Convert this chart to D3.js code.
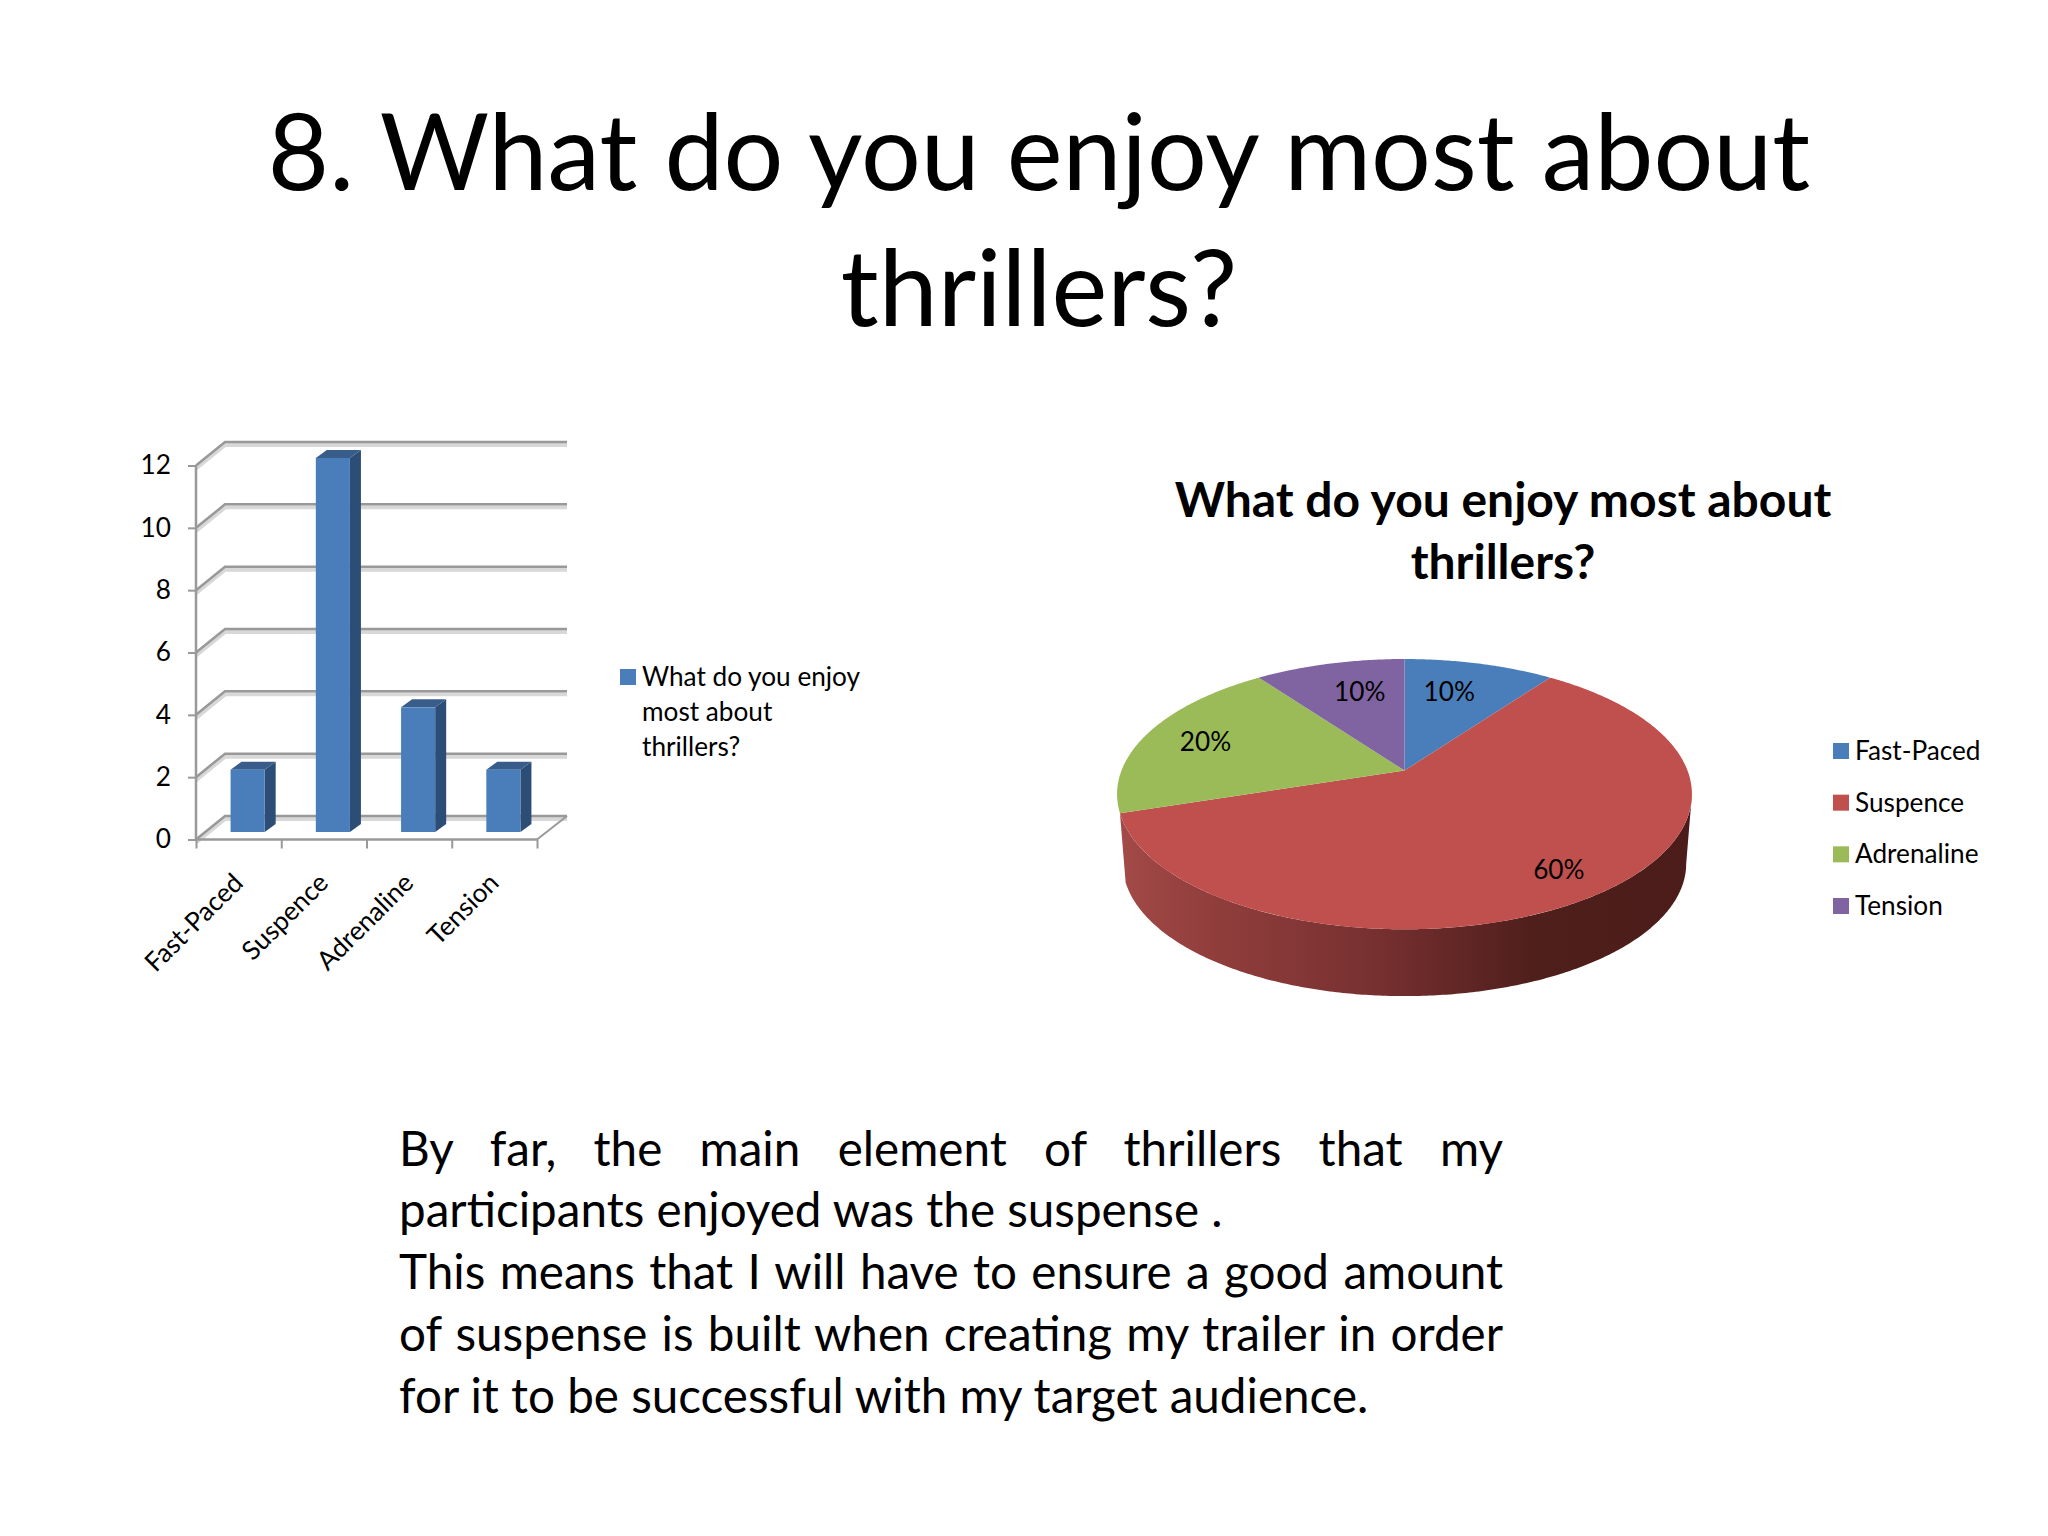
<!DOCTYPE html>
<html>
<head>
<meta charset="utf-8">
<script src="https://cdn.jsdelivr.net/npm/d3@7"></script>
<style>
  html, body { margin: 0; padding: 0; background: #fff; }
  svg { display: block; }
  text { font-family: Lato, "Open Sans", sans-serif; fill: #000; }
  .domain { display: none; }
</style>
</head>
<body>
<div id="slide"></div>
<script>
// chart values
const categories = ["Fast-Paced", "Suspence", "Adrenaline", "Tension"];
const counts = [2, 12, 4, 2];
const yTicks = [0, 2, 4, 6, 8, 10, 12];
const pieColors = ["#4a7ebb", "#c0504d", "#9bbb59", "#8064a2"];
const titleLines = ["8. What do you enjoy most about", "thrillers?"];
const pieTitleLines = ["What do you enjoy most about", "thrillers?"];
const barLegendLines = ["What do you enjoy", "most about", "thrillers?"];
const bodyLines = [
  "By far, the main element of thrillers that my",
  "participants enjoyed was the suspense .",
  "This means that I will have to ensure a good amount",
  "of suspense is built when creating my trailer in order",
  "for it to be successful with my target audience."
];
const bodyJustified = [true, false, true, true, false];

const width = 2048;
const height = 1536;
const smallFont = 26.2;

const svg = d3.select("#slide").append("svg")
  .attr("width", width)
  .attr("height", height);

function addText(parent, str, x, y, size, anchor, weight) {
  return parent.append("text")
    .attr("x", x)
    .attr("y", y)
    .attr("text-anchor", anchor || "start")
    .attr("font-size", size)
    .attr("font-weight", weight || 400)
    .text(str);
}

// slide title
titleLines.forEach((t, i) => addText(svg, t, 1039, 190 + i * 136, 105.7, "middle"));

/*
  Bar chart
*/
const bar = svg.append("g");
const axisX = 196, axisEnd = 537, backEnd = 567;
const depth = {x: 29, y: 23.5};
const barDepth = {x: 11, y: 8};
const barBase = 7.5; // bars stand a little behind the front axis
const barShift = 9;  // and to the right of the middle of their band

const yScale = d3.scaleLinear().domain([0, 12]).range([839.5, 465.5]);
const xScale = d3.scaleBand().domain(categories).range([axisX, axisEnd]).paddingInner(0.6).paddingOuter(0.3);
const edgeScale = d3.scaleLinear().domain([0, categories.length]).range([axisX, axisEnd]);

// walls: each tick runs back along the side and then across the back
const grid = bar.append("g").attr("fill", "none");
yTicks.forEach(t => {
  const y = yScale(t);
  const wall = `M${axisX},${y}L${axisX + depth.x},${y - depth.y}H${backEnd}`;
  grid.append("path").attr("d", wall).attr("transform", "translate(0,3)").attr("stroke", "#d8d8d8").attr("stroke-width", 4);
  grid.append("path").attr("d", wall).attr("stroke", "#999").attr("stroke-width", 2.5);
});
grid.append("path")
  .attr("d", `M${axisEnd},${yScale(0)}L${backEnd},${yScale(0) - depth.y}`)
  .attr("stroke", "#999").attr("stroke-width", 2);
grid.append("path")
  .attr("d", `M${axisX},${yScale(0)}H${axisEnd}`)
  .attr("stroke", "#999").attr("stroke-width", 2.5);
grid.append("path")
  .attr("d", `M${axisX},${yScale(12)}V${yScale(0)}`)
  .attr("stroke", "#999").attr("stroke-width", 2.5);

const yAxis = bar.append("g")
  .attr("transform", `translate(${axisX},0)`)
  .call(d3.axisLeft(yScale).tickValues(yTicks).tickSize(8).tickPadding(17));
yAxis.selectAll("line").attr("stroke", "#999").attr("stroke-width", 2);
yAxis.selectAll("text").attr("font-size", smallFont).style("font-family", "Lato");

const edgeAxis = bar.append("g")
  .attr("transform", `translate(0,${yScale(0)})`)
  .call(d3.axisBottom(edgeScale).ticks(categories.length).tickSize(9).tickFormat(""));
edgeAxis.selectAll("line").attr("stroke", "#999").attr("stroke-width", 2);

const xAxis = bar.append("g")
  .attr("transform", `translate(0,${yScale(0)})`)
  .call(d3.axisBottom(xScale).tickSize(0).tickPadding(0));
xAxis.selectAll("text")
  .attr("font-size", smallFont)
  .attr("text-anchor", "end")
  .attr("dy", 0).attr("y", 0)
  .attr("transform", "translate(6,45) rotate(-45)")
  .style("font-family", "Lato");

const columns = bar.selectAll(".bar").data(categories).enter().append("g").attr("class", "bar");
const w = xScale.bandwidth();
columns.append("path")
  .attr("fill", "#2c4d75")
  .attr("d", (d, i) => {
    const x = xScale(d) + barShift + w, top = yScale(counts[i]) - barBase, bot = yScale(0) - barBase;
    return `M${x},${top}l${barDepth.x},${-barDepth.y}V${bot - barDepth.y}L${x},${bot}Z`;
  });
columns.append("path")
  .attr("fill", "#385d8a")
  .attr("d", (d, i) => {
    const x = xScale(d) + barShift, top = yScale(counts[i]) - barBase;
    return `M${x},${top}l${barDepth.x},${-barDepth.y}h${w}l${-barDepth.x},${barDepth.y}Z`;
  });
columns.append("rect")
  .attr("fill", "#4a7ebb")
  .attr("x", d => xScale(d) + barShift)
  .attr("y", (d, i) => yScale(counts[i]) - barBase)
  .attr("width", w)
  .attr("height", (d, i) => yScale(0) - yScale(counts[i]));

// legend of the bar chart
bar.append("rect").attr("x", 620).attr("y", 669).attr("width", 16).attr("height", 16).attr("fill", "#4a7ebb");
barLegendLines.forEach((t, i) => addText(bar, t, 642, 686 + i * 35, smallFont));

/*
  Pie, drawn in perspective: d3.pie gives the angles, project() tilts them
*/
const pieG = svg.append("g");
pieTitleLines.forEach((t, i) => addText(pieG, t, 1503, 517 + i * 61.5, 48, "middle", 700));

const tilt = {cx: 1404.5, cy: 770.5, rx: 283, ry: 131, k: 0.175, drop: 70, shrink: 0.98};
const labelRadius = [0.56, 0.82, 0.77, 0.56];
const labelLift = [15, -1, -1, 15];

function project(a, r) {
  const rad = r === undefined ? 1 : r;
  const p = 1 + tilt.k * rad * Math.cos(a);
  return [
    tilt.cx + tilt.rx * rad * Math.sin(a) / p,
    tilt.cy - tilt.ry * rad * Math.cos(a) / p
  ];
}
function lower(p) {
  return [
    tilt.cx + (p[0] - tilt.cx) * tilt.shrink,
    tilt.cy + tilt.drop + (p[1] - tilt.cy) * tilt.shrink
  ];
}
function angles(a0, a1) {
  return d3.range(a0, a1, 0.01).concat(a1);
}

const slices = d3.pie().sort(null)(counts);
const total = d3.sum(counts);
const line = d3.line();

const grad = svg.append("defs").append("linearGradient")
  .attr("id", "wall")
  .attr("gradientUnits", "userSpaceOnUse")
  .attr("x1", tilt.cx - 290).attr("x2", tilt.cx + 290)
  .attr("y1", 0).attr("y2", 0);
[[0, "#a34b49"], [0.15, "#923f3d"], [0.45, "#773030"], [0.72, "#4f1f1c"], [1, "#4b1c19"]]
  .forEach(s => grad.append("stop").attr("offset", s[0]).attr("stop-color", s[1]));

// side wall of the big slice, from the rightmost point of the rim round to its end
const rimStart = Math.acos(-tilt.k);
const rim = angles(rimStart, slices[1].endAngle).map(a => project(a));
pieG.append("path")
  .attr("fill", "url(#wall)")
  .attr("d", line(rim.concat(rim.map(lower).reverse())) + "Z");

pieG.selectAll(".slice").data(slices).enter().append("path")
  .attr("class", "slice")
  .attr("fill", (d, i) => pieColors[i])
  .attr("d", d => line([[tilt.cx, tilt.cy]].concat(angles(d.startAngle, d.endAngle).map(a => project(a)))) + "Z");

pieG.selectAll(".pct").data(slices).enter().append("text")
  .attr("class", "pct")
  .attr("font-size", smallFont)
  .attr("text-anchor", "middle")
  .attr("dy", "0.35em")
  .attr("transform", (d, i) => {
    const p = project((d.startAngle + d.endAngle) / 2, labelRadius[i]);
    return `translate(${p[0]},${p[1] - labelLift[i]})`;
  })
  .text(d => d3.format(".0%")(d.value / total));

// pie legend
const legendY = d3.scalePoint().domain(categories).range([751, 906]);
const legend = pieG.selectAll(".legend").data(categories).enter().append("g")
  .attr("class", "legend")
  .attr("transform", d => `translate(1833,${legendY(d)})`);
legend.append("rect").attr("y", -8).attr("width", 16).attr("height", 16).attr("fill", (d, i) => pieColors[i]);
legend.append("text")
  .attr("x", 22)
  .attr("y", 9)
  .attr("font-size", smallFont)
  .text(d => d);

/*
  Body text
*/
const body = svg.append("g");
const bodyX = 399, bodyW = 1104;
bodyLines.forEach((t, i) => {
  const el = addText(body, t, bodyX, 1165.5 + i * 61.8, 47.6);
  if (bodyJustified[i]) {
    const gaps = t.split(" ").length - 1;
    const extra = (bodyW - el.node().getComputedTextLength()) / gaps;
    el.attr("word-spacing", extra);
  }
});
</script>
</body>
</html>
